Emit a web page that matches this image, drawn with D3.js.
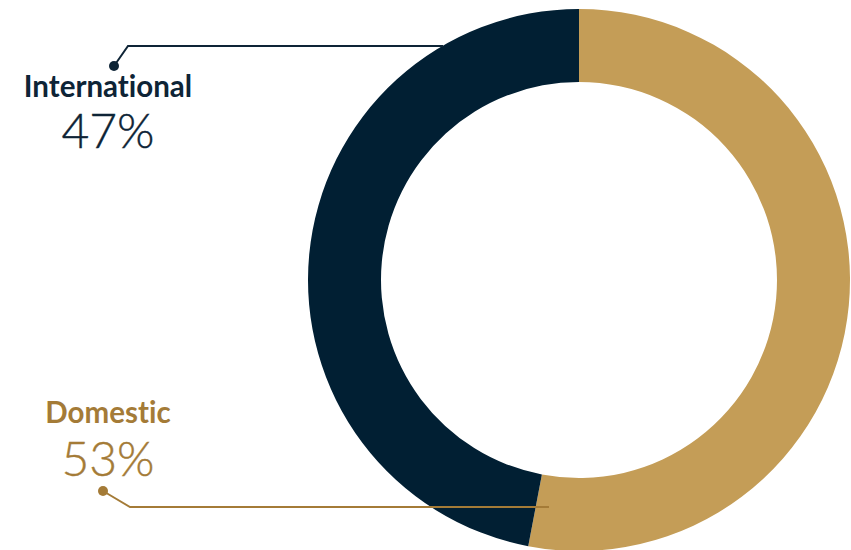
<!DOCTYPE html>
<html>
<head>
<meta charset="utf-8">
<script src="https://cdn.jsdelivr.net/npm/d3@7"></script>
<style>
  html, body { margin: 0; padding: 0; background: #fff; }
  svg { display: block; font-family: Lato, "Open Sans", sans-serif; font-variant-ligatures: none; font-feature-settings: "liga" 0, "clig" 0; }
</style>
</head>
<body>
<svg id="chart" width="851" height="550"></svg>
<script>
// Share of students by origin
const categories = ["Domestic", "International"];
const shares = [53, 47];
const labels = ["53%", "47%"];

const sliceColors = { Domestic: "#C49D57", International: "#011F33" };
const textColors = { Domestic: "#A47B37", International: "#0E2436" };

const svg = d3.select("#chart");
const cx = 579, cy = 280;
const outerR = 271, innerR = 198;

const data = categories.map((c, i) => ({ name: c, value: shares[i], label: labels[i] }));

const pie = d3.pie().value(d => d.value).sort(null);
const arc = d3.arc().innerRadius(innerR).outerRadius(outerR);

const ring = svg.append("g").attr("transform", `translate(${cx},${cy})`);
ring.selectAll("path")
  .data(pie(data))
  .join("path")
  .attr("d", arc)
  .attr("fill", d => sliceColors[d.data.name]);

// Label blocks on the left with elbow leader lines
const labelX = 108;
const layout = {
  International: { nameY: 97, valueY: 148, dot: [114, 66], elbow: [128, 46], lineEndX: 443 },
  Domestic: { nameY: 423, valueY: 476, dot: [103, 491], elbow: [130, 507], lineEndX: 549 }
};

data.forEach(d => {
  const L = layout[d.name];
  const col = textColors[d.name];
  const g = svg.append("g");
  g.append("path")
    .attr("d", d3.line()([L.dot, L.elbow, [L.lineEndX, L.elbow[1]]]))
    .attr("fill", "none")
    .attr("stroke", col)
    .attr("stroke-width", 2);
  g.append("circle")
    .attr("cx", L.dot[0]).attr("cy", L.dot[1]).attr("r", 5)
    .attr("fill", col);
  g.append("text")
    .attr("x", labelX).attr("y", L.nameY)
    .attr("text-anchor", "middle")
    .attr("font-weight", 700)
    .attr("font-size", 29.5)
    .attr("fill", col)
    .text(d.name);
  g.append("text")
    .attr("x", labelX).attr("y", L.valueY)
    .attr("text-anchor", "middle")
    .attr("font-weight", 300)
    .attr("font-size", 48)
    .attr("fill", col)
    .attr("stroke", col)
    .attr("stroke-width", 0.4)
    .text(d.label);
});
</script>
</body>
</html>
